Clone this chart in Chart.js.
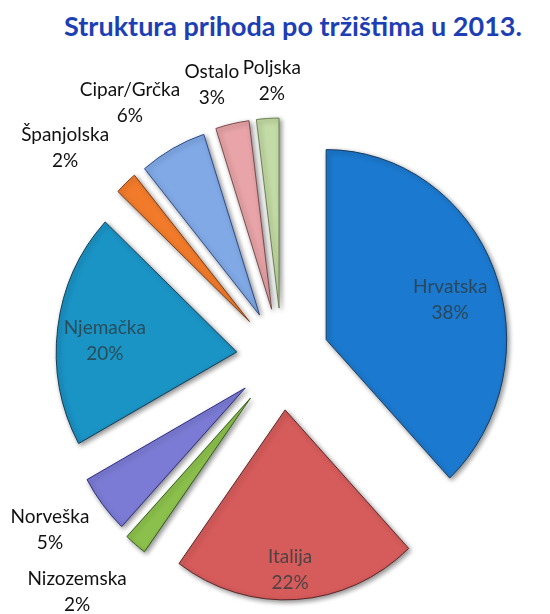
<!DOCTYPE html>
<html lang="hr">
<head>
  <meta charset="UTF-8" />
  <title>Struktura prihoda po tržištima u 2013.</title>
  <script src="https://cdn.jsdelivr.net/npm/chart.js"></script>
  <style>
    html, body { margin: 0; padding: 0; background: #fff; }
    body { width: 550px; height: 614px; position: relative; overflow: hidden; }
    #title {
      position: absolute; left: 0; top: 9px; width: 550px;
      padding-left: 36px; box-sizing: border-box; text-align: center;
      font-family: Lato, "Open Sans", sans-serif; font-weight: bold;
      font-size: 27px; color: #1d3fb4; white-space: nowrap;
    }
    .chart-box { position: absolute; left: 0; top: 0; width: 550px; height: 614px; }
  </style>
</head>
<body>
  <div id="title">Struktura prihoda po tržištima u 2013.</div>
  <div class="chart-box">
    <canvas id="marketChart" width="550" height="614"></canvas>
  </div>

  <script>
    // podaci (udio prihoda po tržištu, %)
    const markets = ['Hrvatska', 'Italija', 'Nizozemska', 'Norveška', 'Njemačka', 'Španjolska', 'Cipar/Grčka', 'Ostalo', 'Poljska'];
    const shares = [38, 22, 2, 5, 20, 2, 6, 3, 2];

    // stil
    const fills = ['#1b79cf', '#d65b5b', '#8cc04c', '#7b7bd5', '#1a93c5', '#f27b2b', '#80a9e6', '#e8a4a8', '#c3dba6'];
    const edges = ['#153a5e', '#5a2424', '#2f5a1a', '#2a2a80', '#103c50', '#7a3a10', '#2c4a8a', '#7a4a4a', '#6a8050'];
    const explode = [50, 52, 52, 49, 48, 50, 49, 50, 50];   // pomak kriški u px
    const labelDist = [178, 212, 311, 289, 178, 302, 297, 282, 277];
    const labelTurn = [2.5, 1.4, 1.6, 1.2, -1.7, -2.7, -2, -1.8, 1.5]; // stupnjevi
    const labelInside = [true, true, false, false, true, false, false, false, false];
    const pieRadius = 190;
    const squeezeX = 0.95; // original je malo stisnut vodoravno

    // Chart.js kod odmaknutih kriški povećava radijus i sužava kut (ovisno o circumference);
    // ovdje se to isključuje da kriške ostanu pravog oblika
    const keepShape = {
      id: 'keepShape',
      beforeDatasetsDraw(chart) {
        chart.getDatasetMeta(0).data.forEach(arc => {
          arc.circumference = Math.PI / 2;
        });
      }
    };

    const shadowPlugin = {
      id: 'sliceShadow',
      beforeDatasetsDraw(chart) {
        const ctx = chart.ctx;
        const cx = chart.getDatasetMeta(0).data[0].x;
        ctx.save();
        ctx.translate(cx, 0);
        ctx.scale(squeezeX, 1);
        ctx.translate(-cx, 0);
        ctx.shadowColor = 'rgba(0,0,0,0.45)';
        ctx.shadowBlur = 5;
        ctx.shadowOffsetX = 2;
        ctx.shadowOffsetY = 2;
      },
      afterDatasetsDraw(chart) {
        chart.ctx.restore();
      }
    };

    const labelPlugin = {
      id: 'sliceLabels',
      afterDatasetsDraw(chart) {
        const ctx = chart.ctx;
        const arcs = chart.getDatasetMeta(0).data;
        ctx.save();
        ctx.font = '19px Lato, "Open Sans", sans-serif';
        ctx.textAlign = 'center';
        ctx.textBaseline = 'middle';
        arcs.forEach((arc, i) => {
          const p = arc.getProps(['x', 'y', 'startAngle', 'endAngle'], true);
          const mid = (p.startAngle + p.endAngle) / 2 + labelTurn[i] * Math.PI / 180;
          const cx = p.x + Math.cos(mid) * labelDist[i];
          const cy = p.y + Math.sin(mid) * labelDist[i];
          ctx.fillStyle = labelInside[i] ? 'rgba(45,60,62,0.8)' : '#111';
          ctx.fillText(markets[i], cx, cy - 13);
          ctx.fillText(shares[i] + '%', cx, cy + 13);
        });
        ctx.restore();
      }
    };

    new Chart(document.getElementById('marketChart'), {
      type: 'pie',
      data: {
        labels: markets,
        datasets: [{
          data: shares,
          backgroundColor: fills,
          borderColor: edges,
          borderWidth: 1,
          offset: explode.map(v => v * 4)
        }]
      },
      options: {
        responsive: false,
        animation: false,
        events: [],
        radius: pieRadius,
        layout: { padding: { left: 14, right: 0, top: 102, bottom: 0 } },
        plugins: {
          legend: { display: false },
          title: { display: false },
          tooltip: { enabled: false }
        }
      },
      plugins: [keepShape, shadowPlugin, labelPlugin]
    });
  </script>
</body>
</html>
